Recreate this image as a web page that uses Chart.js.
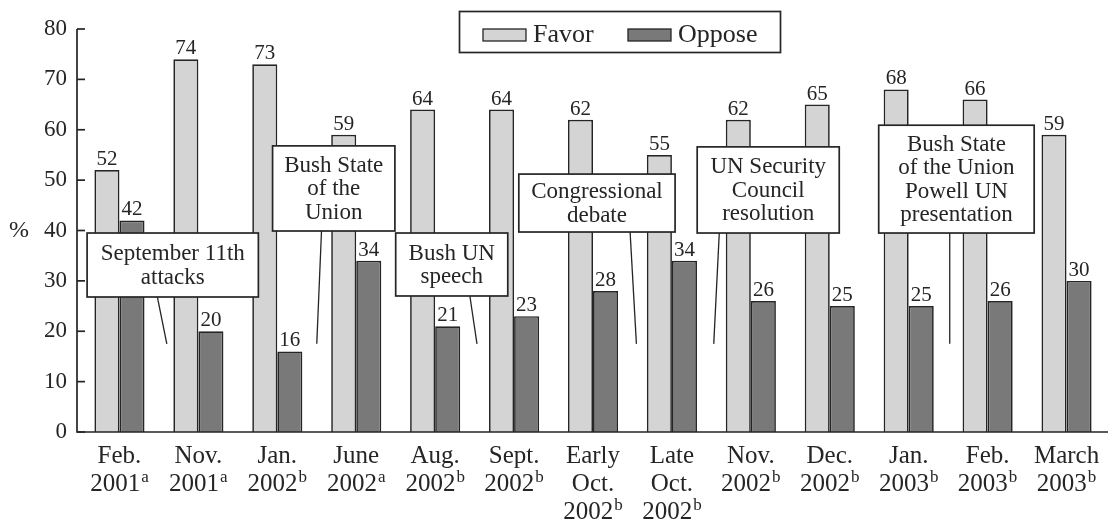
<!DOCTYPE html>
<html>
<head>
<meta charset="utf-8">
<script src="https://cdn.jsdelivr.net/npm/chart.js@4/dist/chart.umd.min.js"></script>
<style>
  html, body { margin: 0; padding: 0; background: #fff; }
</style>
</head>
<body>
<canvas id="chart" width="1115" height="523"></canvas>
<script>
// Dữ liệu
const dates = [
    ['Feb.', '2001'], ['Nov.', '2001'], ['Jan.', '2002'], ['June', '2002'],
    ['Aug.', '2002'], ['Sept.', '2002'], ['Early', 'Oct.', '2002'], ['Late', 'Oct.', '2002'],
    ['Nov.', '2002'], ['Dec.', '2002'], ['Jan.', '2003'], ['Feb.', '2003'], ['March', '2003']
];
const sources = ['a', 'a', 'b', 'a', 'b', 'b', 'b', 'b', 'b', 'b', 'b', 'b', 'b'];
const favor = [52, 74, 73, 59, 64, 64, 62, 55, 62, 65, 68, 66, 59];
const oppose = [42, 20, 16, 34, 21, 23, 28, 34, 26, 25, 25, 26, 30];
const yTicks = [0, 10, 20, 30, 40, 50, 60, 70, 80];
const events = [
    ['September 11th', 'attacks'],
    ['Bush State', 'of the', 'Union'],
    ['Bush UN', 'speech'],
    ['Congressional', 'debate'],
    ['UN Security', 'Council', 'resolution'],
    ['Bush State', 'of the Union', 'Powell UN', 'presentation']
];

// Vị trí hộp chú thích (đơn vị: chỉ số cột / giá trị %)
const eventPos = [
    { x0: -0.41, x1: 1.76, top: 39.5, bottom: 26.8, lx0: 0.48, lx1: 0.60 },
    { x0: 1.94, x1: 3.49, top: 56.8, bottom: 39.9, lx0: 2.56, lx1: 2.50 },
    { x0: 3.50, x1: 4.92, top: 39.5, bottom: 27.0, lx0: 4.44, lx1: 4.53 },
    { x0: 5.06, x1: 7.04, top: 51.2, bottom: 39.7, lx0: 6.47, lx1: 6.55 },
    { x0: 7.32, x1: 9.12, top: 56.6, bottom: 39.5, lx0: 7.60, lx1: 7.53 },
    { x0: 9.62, x1: 11.59, top: 60.9, bottom: 39.5, lx0: 10.52, lx1: 10.52 }
];
const lineEnd = 17.5;

const SERIF = '"Liberation Serif", "DejaVu Serif", serif';
const INK = '#252525';

function xAt(xs, v) {
    const a = xs.getPixelForValue(0);
    const b = xs.getPixelForValue(1);
    return a + v * (b - a);
}

const decorPlugin = {
    id: 'decor',
    afterDatasetsDraw(chart) {
        const ctx = chart.ctx;
        const xs = chart.scales.x;
        const ys = chart.scales.y;
        const area = chart.chartArea;
        ctx.save();

        // Trục
        ctx.strokeStyle = INK;
        ctx.lineWidth = 1.7;
        ctx.beginPath();
        ctx.moveTo(area.left - 3, ys.getPixelForValue(80));
        ctx.lineTo(area.left - 3, ys.getPixelForValue(0));
        ctx.lineTo(area.right + 2, ys.getPixelForValue(0));
        ctx.stroke();
        yTicks.forEach(t => {
            const y = ys.getPixelForValue(t);
            ctx.beginPath();
            ctx.moveTo(area.left - 3, y);
            ctx.lineTo(area.left + 5, y);
            ctx.stroke();
        });

        // Nhãn giá trị
        ctx.fillStyle = INK;
        ctx.font = '21px ' + SERIF;
        ctx.textAlign = 'center';
        ctx.textBaseline = 'alphabetic';
        chart.data.datasets.forEach((ds, di) => {
            chart.getDatasetMeta(di).data.forEach((bar, i) => {
                ctx.fillText(String(ds.data[i]), bar.x, bar.y - 5);
            });
        });

        // Hộp chú thích sự kiện
        ctx.font = '23px ' + SERIF;
        events.forEach((lines, k) => {
            const p = eventPos[k];
            const left = xAt(xs, p.x0), right = xAt(xs, p.x1);
            const top = ys.getPixelForValue(p.top), bottom = ys.getPixelForValue(p.bottom);
            ctx.lineWidth = 1.3;
            ctx.strokeStyle = INK;
            ctx.beginPath();
            ctx.moveTo(xAt(xs, p.lx0), bottom);
            ctx.lineTo(xAt(xs, p.lx1), ys.getPixelForValue(lineEnd));
            ctx.stroke();
            ctx.fillStyle = '#fff';
            ctx.fillRect(left, top, right - left, bottom - top);
            ctx.lineWidth = 1.7;
            ctx.strokeRect(left, top, right - left, bottom - top);
            ctx.fillStyle = INK;
            ctx.textBaseline = 'middle';
            const lh = 23.5;
            const cy = (top + bottom) / 2 - (lines.length - 1) * lh / 2;
            lines.forEach((s, j) => ctx.fillText(s, (left + right) / 2, cy + j * lh + 1));
        });

        // Nhãn trục x với chỉ số trên
        ctx.textBaseline = 'alphabetic';
        dates.forEach((lines, i) => {
            const cx = xs.getPixelForValue(i);
            lines.forEach((s, j) => {
                const by = 463 + j * 28;
                ctx.font = '25px ' + SERIF;
                if (j === lines.length - 1) {
                    const w = ctx.measureText(s).width;
                    ctx.font = '17px ' + SERIF;
                    const ws = ctx.measureText(sources[i]).width;
                    const x0 = cx - (w + ws + 1) / 2;
                    ctx.textAlign = 'left';
                    ctx.font = '25px ' + SERIF;
                    ctx.fillText(s, x0, by);
                    ctx.font = '17px ' + SERIF;
                    ctx.fillText(sources[i], x0 + w + 1, by - 9);
                    ctx.textAlign = 'center';
                } else {
                    ctx.fillText(s, cx, by);
                }
            });
        });

        // Ký hiệu %
        ctx.font = '24px ' + SERIF;
        ctx.textBaseline = 'middle';
        ctx.fillText('%', 19, ys.getPixelForValue(40));

        // Chú giải
        ctx.lineWidth = 1.7;
        ctx.strokeStyle = INK;
        ctx.strokeRect(459.5, 11.5, 321, 41);
        const legendX = [483, 628];
        ctx.font = '26px ' + SERIF;
        ctx.textAlign = 'left';
        ctx.textBaseline = 'alphabetic';
        chart.data.datasets.forEach((ds, di) => {
            ctx.fillStyle = ds.backgroundColor;
            ctx.fillRect(legendX[di], 29, 43, 12);
            ctx.lineWidth = 1.3;
            ctx.strokeRect(legendX[di], 29, 43, 12);
            ctx.fillStyle = INK;
            ctx.fillText(ds.label, legendX[di] + 50, 42);
        });

        ctx.restore();
    }
};

const chart = new Chart(document.getElementById('chart').getContext('2d'), {
    type: 'bar',
    data: {
        labels: dates.map(d => d.join(' ')),
        datasets: [{
            label: 'Favor',
            data: favor,
            backgroundColor: '#d4d4d4',
            borderColor: INK,
            borderWidth: 1.7,
            barPercentage: 1,
            categoryPercentage: 0.635
        }, {
            label: 'Oppose',
            data: oppose,
            backgroundColor: '#797979',
            borderColor: INK,
            borderWidth: 1.7,
            barPercentage: 1,
            categoryPercentage: 0.635
        }]
    },
    options: {
        responsive: false,
        animation: false,
        layout: { padding: { left: 0, right: 9, top: 29, bottom: 0 } },
        plugins: { legend: { display: false }, tooltip: { enabled: false } },
        scales: {
            x: {
                grid: { display: false },
                border: { display: false },
                ticks: { display: false },
                afterFit: s => { s.height = 91; }
            },
            y: {
                min: 0,
                max: 80,
                grid: { display: false, drawTicks: false },
                border: { display: false },
                ticks: {
                    stepSize: 10,
                    padding: 13,
                    color: INK,
                    font: { family: SERIF, size: 23 }
                },
                afterFit: s => { s.width = 80; }
            }
        }
    },
    plugins: [decorPlugin]
});
</script>
</body>
</html>
